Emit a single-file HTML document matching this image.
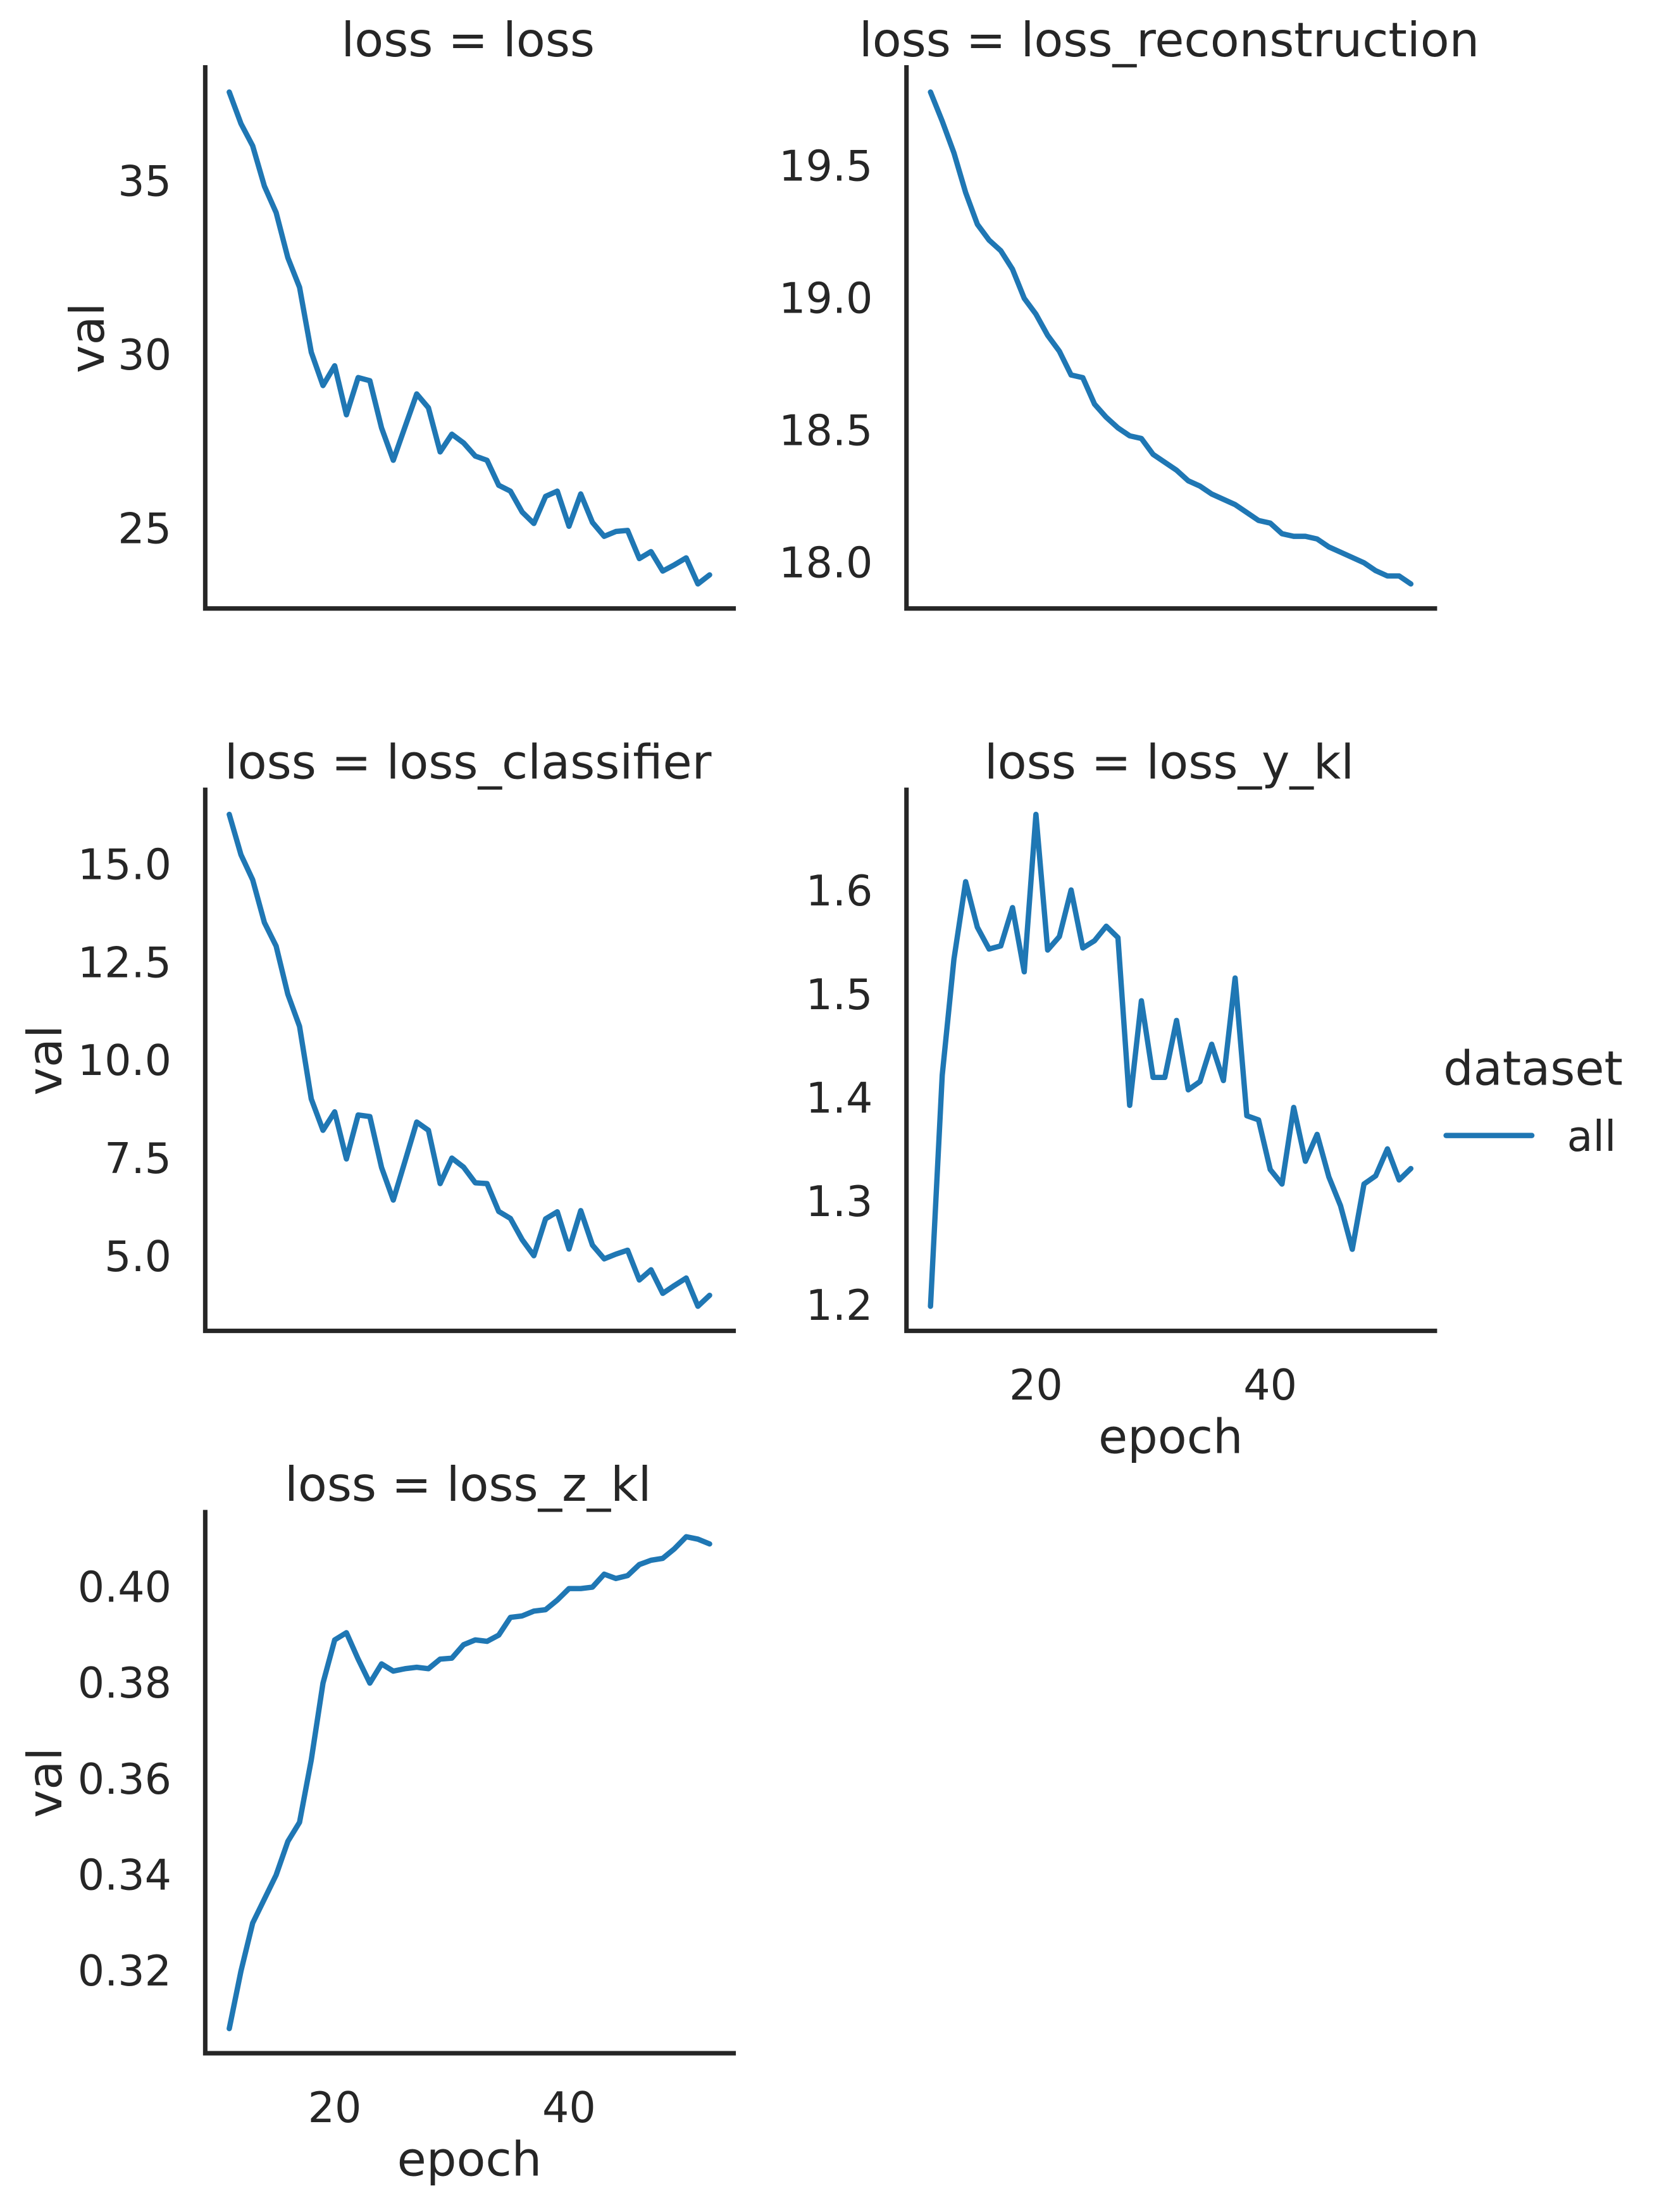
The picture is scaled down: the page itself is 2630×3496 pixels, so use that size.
<!DOCTYPE html>
<html><head><meta charset="utf-8"><style>
html,body{margin:0;padding:0;background:#fff}
svg{display:block}
text{font-family:"DejaVu Sans","Liberation Sans",sans-serif;fill:#262626}
</style></head><body>
<svg id="fig" width="2630" height="3496" viewBox="0 0 1184 1574" xmlns="http://www.w3.org/2000/svg"></svg>
<script>
const epochs = [11,12,13,14,15,16,17,18,19,20,21,22,23,24,25,26,27,28,29,30,31,32,33,34,35,36,37,38,39,40,41,42,43,44,45,46,47,48,49,50,51,52];
const lossVals = [37.57,36.66,36.02,34.86,34.1,32.8,31.95,30.08,29.12,29.69,28.28,29.35,29.26,27.9,26.97,27.93,28.88,28.48,27.21,27.72,27.47,27.09,26.97,26.25,26.08,25.48,25.15,25.93,26.08,25.07,26.0,25.18,24.78,24.92,24.95,24.14,24.34,23.78,23.96,24.16,23.41,23.67];
const reconVals = [19.78,19.67,19.55,19.40,19.28,19.22,19.18,19.11,19.00,18.94,18.86,18.80,18.71,18.70,18.60,18.55,18.51,18.48,18.47,18.41,18.38,18.35,18.31,18.29,18.26,18.24,18.22,18.19,18.16,18.15,18.11,18.10,18.10,18.09,18.06,18.04,18.02,18.00,17.97,17.95,17.95,17.92];
const classVals = [16.28,15.25,14.61,13.52,12.92,11.69,10.87,9.02,8.22,8.69,7.49,8.61,8.57,7.27,6.44,7.43,8.43,8.22,6.86,7.51,7.28,6.88,6.86,6.15,5.97,5.43,5.02,5.96,6.14,5.19,6.17,5.29,4.94,5.06,5.16,4.40,4.66,4.06,4.26,4.45,3.73,4.01];
const yklVals = [1.199,1.422,1.534,1.609,1.565,1.544,1.547,1.584,1.522,1.674,1.543,1.556,1.601,1.545,1.552,1.566,1.555,1.393,1.494,1.420,1.420,1.475,1.408,1.416,1.452,1.417,1.516,1.383,1.379,1.331,1.317,1.391,1.339,1.365,1.324,1.296,1.254,1.317,1.325,1.351,1.321,1.332];
const zklVals = [0.308,0.320,0.330,0.335,0.340,0.347,0.351,0.364,0.380,0.389,0.3905,0.385,0.380,0.384,0.3825,0.383,0.3833,0.383,0.385,0.3852,0.388,0.389,0.3887,0.390,0.3937,0.394,0.395,0.3953,0.3973,0.3997,0.3997,0.400,0.4027,0.4018,0.4024,0.4047,0.4056,0.406,0.408,0.4105,0.410,0.409];
const lossTicks = [25,30,35];
const reconTicks = [18.0,18.5,19.0,19.5];
const classTicks = [5.0,7.5,10.0,12.5,15.0];
const yklTicks = [1.2,1.3,1.4,1.5,1.6];
const zklTicks = [0.32,0.34,0.36,0.38,0.40];
const xTicks = [20,40];

const NS="http://www.w3.org/2000/svg";
const svg=document.getElementById('fig');
function mk(tag,attrs,parent){const e=document.createElementNS(NS,tag);for(const k in attrs)e.setAttribute(k,attrs[k]);(parent||svg).appendChild(e);return e;}

const panels=[
 {key:'loss',title:'loss = loss',vals:lossVals,ticks:lossTicks,dec:0,x0:146,y0:48,ylabel:true,ylx:62,xlab:false},
 {key:'recon',title:'loss = loss_reconstruction',vals:reconVals,ticks:reconTicks,dec:1,x0:645,y0:48,ylabel:false,xlab:false},
 {key:'classifier',title:'loss = loss_classifier',vals:classVals,ticks:classTicks,dec:1,x0:146,y0:562,ylabel:true,ylx:32,xlab:false},
 {key:'y-kl',title:'loss = loss_y_kl',vals:yklVals,ticks:yklTicks,dec:1,x0:645,y0:562,ylabel:false,xlab:true},
 {key:'z-kl',title:'loss = loss_z_kl',vals:zklVals,ticks:zklTicks,dec:2,x0:146,y0:1076,ylabel:true,ylx:32,xlab:true}
];
const W=376,H=385;
const emin=Math.min(...epochs),emax=Math.max(...epochs),em=(emax-emin)*0.05;
panels.forEach(p=>{
  const g=mk('g',{});
  
  
  const vmin=Math.min(...p.vals),vmax=Math.max(...p.vals),vm=(vmax-vmin)*0.05;
  const xs=e=>p.x0+(e-(emin-em))/((emax+em)-(emin-em))*W;
  const ys=v=>p.y0+H-(v-(vmin-vm))/((vmax+vm)-(vmin-vm))*H;
  const t=mk('text',{x:p.x0+W/2-1,y:p.y0-8,'text-anchor':'middle','font-size':33.8},g);
  t.textContent=p.title;
  
  
  p.ticks.forEach(v=>{
    const tl=mk('text',{x:p.x0-24,y:ys(v),'text-anchor':'end','dominant-baseline':'central','font-size':30},g);
    tl.textContent=v.toFixed(p.dec);
    
    
  });
  if(p.ylabel){
    const yl=mk('text',{x:p.ylx,y:p.y0+H/2,'text-anchor':'middle','dominant-baseline':'central','font-size':33.8,transform:`rotate(-90 ${p.ylx} ${p.y0+H/2})`},g);
    yl.textContent='val';
    
    
  }
  if(p.xlab){
    xTicks.forEach(v=>{
      const xl=mk('text',{x:xs(v),y:p.y0+H+49,'text-anchor':'middle','font-size':30},g);
      xl.textContent=String(v);
      
      
    });
    const xt=mk('text',{x:p.x0+W/2,y:p.y0+H+87,'text-anchor':'middle','font-size':33.8},g);
    xt.textContent='epoch';
    
    
  }
  const pts=epochs.map((e,i)=>xs(e).toFixed(2)+','+ys(p.vals[i]).toFixed(2)).join(' ');
  const line=mk('polyline',{points:pts,fill:'none',stroke:'#1f77b4','stroke-width':3.8,'stroke-linejoin':'round','stroke-linecap':'round'},g);
  
  
  const sp=mk('path',{d:`M${p.x0},${p.y0} L${p.x0},${p.y0+H} L${p.x0+W},${p.y0+H}`,fill:'none',stroke:'#262626','stroke-width':3.2,'stroke-linecap':'square'},g);
  
  
});
const lg=mk('g',{});


const lt=mk('text',{x:1027,y:772,'font-size':33.8},lg);
lt.textContent='dataset';


const ll=mk('line',{x1:1029,y1:808,x2:1090,y2:808,stroke:'#1f77b4','stroke-width':3.8,'stroke-linecap':'round'},lg);


const la=mk('text',{x:1115,y:819,'font-size':30},lg);
la.textContent='all';


</script>
</body></html>
